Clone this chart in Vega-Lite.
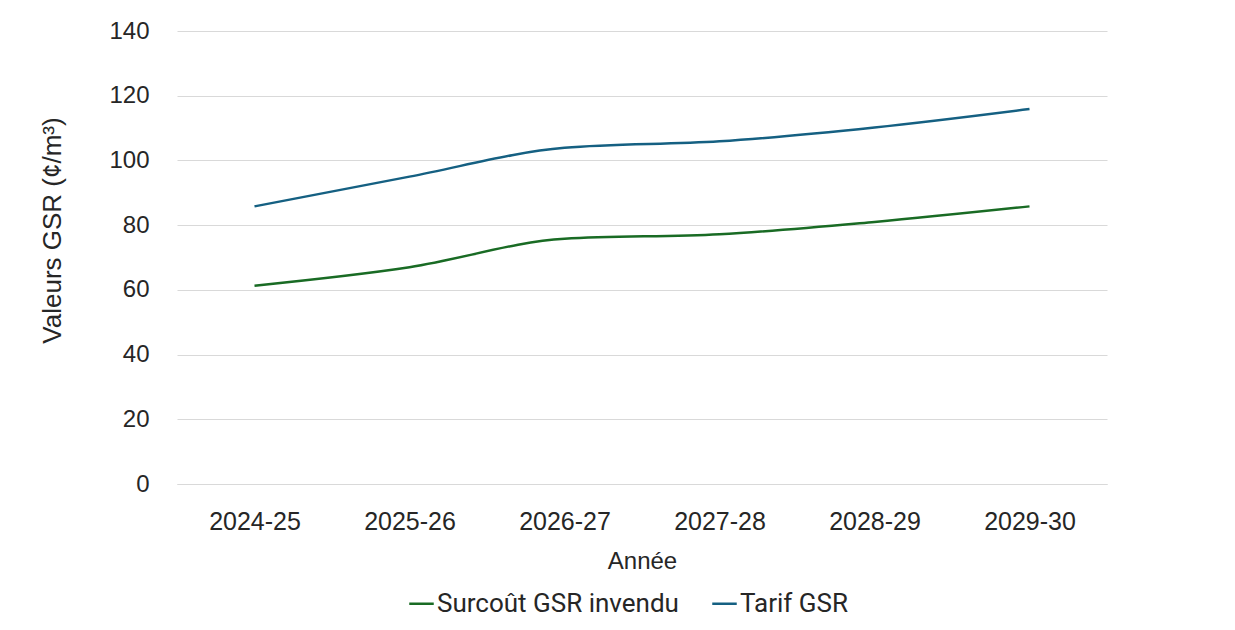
{
  "$schema": "https://vega.github.io/schema/vega-lite/v6.json",
  "width": 930,
  "height": 453,
  "autosize": {"type": "none"},
  "padding": {"left": 177, "top": 31, "right": 128, "bottom": 146},
  "background": "white",
  "config": {
    "view": {"stroke": null},
    "font": "Liberation Sans"
  },
  "data": {
    "values": [
      {"annee": "2024-25", "serie": "Surcoût GSR invendu", "valeur": 61.3},
      {"annee": "2025-26", "serie": "Surcoût GSR invendu", "valeur": 67.0},
      {"annee": "2026-27", "serie": "Surcoût GSR invendu", "valeur": 75.8},
      {"annee": "2027-28", "serie": "Surcoût GSR invendu", "valeur": 77.2},
      {"annee": "2028-29", "serie": "Surcoût GSR invendu", "valeur": 81.0},
      {"annee": "2029-30", "serie": "Surcoût GSR invendu", "valeur": 85.8},
      {"annee": "2024-25", "serie": "Tarif GSR", "valeur": 85.8},
      {"annee": "2025-26", "serie": "Tarif GSR", "valeur": 95.0},
      {"annee": "2026-27", "serie": "Tarif GSR", "valeur": 103.9},
      {"annee": "2027-28", "serie": "Tarif GSR", "valeur": 105.9},
      {"annee": "2028-29", "serie": "Tarif GSR", "valeur": 110.2},
      {"annee": "2029-30", "serie": "Tarif GSR", "valeur": 115.9}
    ]
  },
  "mark": {"type": "line", "interpolate": "monotone", "strokeWidth": 2.5},
  "encoding": {
    "x": {
      "field": "annee",
      "type": "ordinal",
      "scale": {"padding": 0.5},
      "axis": {
        "title": "Année",
        "labelAngle": 0,
        "labelFontSize": 25,
        "labelColor": "#262626",
        "labelPadding": 25,
        "ticks": false,
        "domainColor": "#d9d9d9",
        "domainWidth": 1,
        "titleFontSize": 24,
        "titleFontWeight": "normal",
        "titleColor": "#262626",
        "titlePadding": 15
      }
    },
    "y": {
      "field": "valeur",
      "type": "quantitative",
      "scale": {"domain": [0, 140]},
      "axis": {
        "title": "Valeurs GSR (¢/m³)",
        "values": [0, 20, 40, 60, 80, 100, 120, 140],
        "labelFontSize": 24,
        "labelColor": "#262626",
        "labelPadding": 28,
        "ticks": false,
        "domain": false,
        "gridColor": "#d9d9d9",
        "gridWidth": 1,
        "titleFontSize": 26,
        "titleFontWeight": "normal",
        "titleColor": "#262626",
        "titleX": -112,
        "titleY": 199
      }
    },
    "color": {
      "field": "serie",
      "type": "nominal",
      "scale": {
        "domain": ["Surcoût GSR invendu", "Tarif GSR"],
        "range": ["#196B24", "#156082"]
      },
      "legend": {
        "title": null,
        "orient": "none",
        "legendX": 231,
        "legendY": 559,
        "direction": "horizontal",
        "symbolType": "stroke",
        "symbolSize": 600,
        "symbolStrokeWidth": 2.5,
        "labelFontSize": 26,
        "labelFont": "Roboto",
        "labelColor": "#262626",
        "labelLimit": 400,
        "labelOffset": 2,
        "columnPadding": 28
      }
    }
  }
}
